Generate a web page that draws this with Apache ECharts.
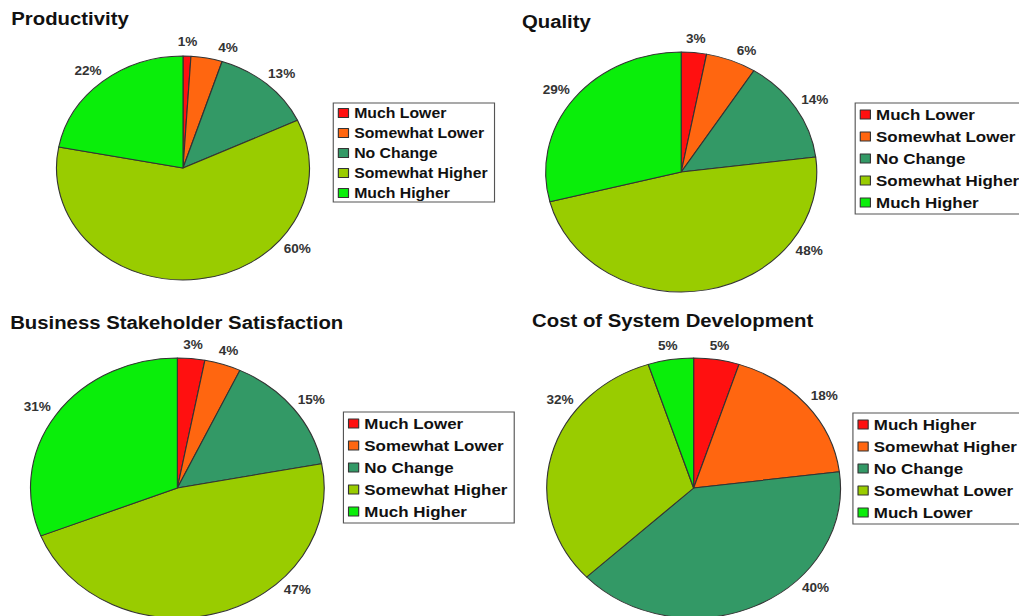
<!DOCTYPE html>
<html>
<head>
<meta charset="utf-8">
<script src="https://cdn.jsdelivr.net/npm/echarts@6/dist/echarts.min.js"></script>
<style>
  html, body { margin: 0; padding: 0; background: #fff; overflow: hidden; }
  /* the original picture is stretched sideways, so the chart is drawn narrower and widened */
  #chart { width: 902px; height: 616px; transform: scaleX(1.1297); transform-origin: 0 0; }
</style>
</head>
<body>
<div id="chart"></div>
<script>
// data
var titles = ["Productivity", "Quality", "Business Stakeholder Satisfaction", "Cost of System Development"];
var namesUp = ["Much Lower", "Somewhat Lower", "No Change", "Somewhat Higher", "Much Higher"];
var namesCost = ["Much Higher", "Somewhat Higher", "No Change", "Somewhat Lower", "Much Lower"];
var productivity = [1, 4, 13, 60, 22];
var quality = [3, 6, 14, 48, 29];
var satisfaction = [3, 4, 15, 47, 31];
var cost = [5, 18, 40, 32, 5];

var colors = ["#ff1010", "#ff6610", "#339966", "#99cc00", "#0aee0a"];

// pie placement (chart px, before the sideways stretch)
var pies = [
    { values: productivity, center: [162, 168], r: 112, moveLabel: { 1: 18, 3: 130 } },
    { values: quality, center: [603, 172], r: 120, moveLabel: { 1: 25, 3: 126 } },
    { values: satisfaction, center: [157, 488], r: 130, moveLabel: { 3: 135 } },
    { values: cost, center: [614, 488], r: 130, moveLabel: { 2: 134, 3: 308 } }
];

var chart = echarts.init(document.getElementById("chart"), null, { renderer: "svg" });

function pieData(names, values) {
    var d = [];
    for (var i = 0; i < names.length; i++) {
        d.push({ name: names[i], value: values[i], itemStyle: { color: colors[i] } });
    }
    return d;
}

function legendData(names) {
    var d = [];
    for (var i = 0; i < names.length; i++) {
        d.push({ name: names[i], itemStyle: { color: colors[i], borderColor: "#333", borderWidth: 1 } });
    }
    return d;
}

// mid angle of a slice, degrees clockwise from 12 o'clock
function midAngle(values, idx) {
    var total = 0, before = 0;
    for (var i = 0; i < values.length; i++) {
        total += values[i];
        if (i < idx) before += values[i];
    }
    return (before + values[idx] / 2) / total * 360;
}

// put each percent box just outside the rim, like the original
function placeLabel(p) {
    var s = pies[p.seriesIndex];
    var deg = s.moveLabel[p.dataIndex] != null ? s.moveLabel[p.dataIndex] : midAngle(s.values, p.dataIndex);
    var a = deg * Math.PI / 180;
    var d = s.r + 8;
    var sx = Math.sin(a), cy = Math.cos(a);
    var w = p.labelRect.width, h = p.labelRect.height;
    return {
        x: s.center[0] + d * sx + w / 2 * sx,
        y: s.center[1] - d * cy - h / 2 * cy,
        align: "center",
        verticalAlign: "middle"
    };
}

function makePie(names, k) {
    var s = pies[k];
    return {
        type: "pie",
        center: s.center,
        radius: s.r,
        startAngle: 90,
        clockwise: true,
        silent: true,
        data: pieData(names, s.values),
        itemStyle: { borderColor: "#333", borderWidth: 1 },
        label: {
            show: true,
            position: "outside",
            formatter: "{c}%",
            fontFamily: "Liberation Sans",
            fontSize: 12,
            fontWeight: "bold",
            color: "#333"
        },
        labelLine: { show: false, length: 8, length2: 0 },
        labelLayout: placeLabel,
        emphasis: { disabled: true }
    };
}

function makeLegend(names, left, top, size, gap, pad) {
    return {
        show: true,
        orient: "vertical",
        left: left,
        top: top,
        data: legendData(names),
        icon: "rect",
        itemWidth: 9,
        itemHeight: 9,
        itemGap: gap,
        selectedMode: false,
        borderColor: "#555",
        borderWidth: 1,
        padding: pad,
        textStyle: {
            fontFamily: "Liberation Sans",
            fontSize: size,
            fontWeight: "bold",
            color: "#111"
        }
    };
}

var titleStyle = { fontFamily: "Liberation Sans", fontSize: 18, fontWeight: "bold", color: "#111" };

var option = {
    animation: false,
    backgroundColor: "#fff",
    title: [
        { text: titles[0], left: 10, top: 10, padding: 0, textStyle: titleStyle },
        { text: titles[1], left: 462, top: 13, padding: 0, textStyle: titleStyle },
        { text: titles[2], left: 9, top: 314, padding: 0, textStyle: titleStyle },
        { text: titles[3], left: 471, top: 312, padding: 0, textStyle: titleStyle }
    ],
    legend: [
        makeLegend(namesUp, 295, 103, 14, 6, [3, 6, 2, 4]),
        makeLegend(namesUp, 757, 103, 15, 7, [4, 6, 4, 4]),
        makeLegend(namesUp, 304, 412, 15, 7, [4, 6, 4, 4]),
        makeLegend(namesCost, 755, 413, 15, 7, [4, 6, 4, 4])
    ],
    series: [
        makePie(namesUp, 0),
        makePie(namesUp, 1),
        makePie(namesUp, 2),
        makePie(namesCost, 3)
    ]
};
chart.setOption(option);
</script>
</body>
</html>
